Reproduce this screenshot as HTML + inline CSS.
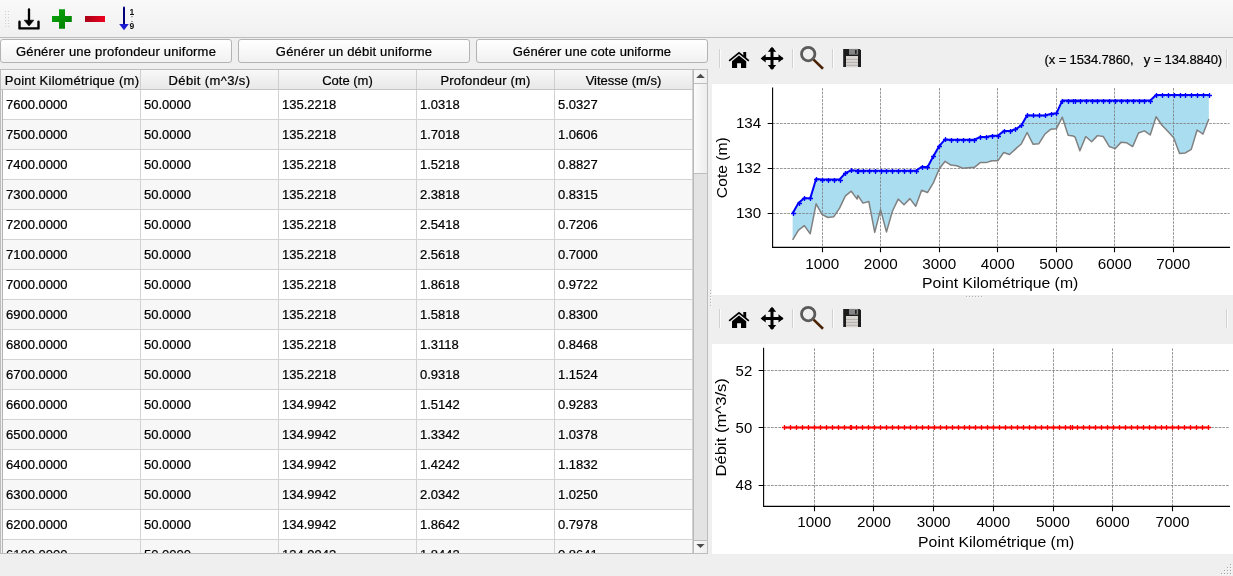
<!DOCTYPE html>
<html lang="fr">
<head>
<meta charset="utf-8">
<title>Conditions initiales</title>
<style>
html,body{margin:0;padding:0}
body{width:1233px;height:576px;overflow:hidden;background:#efefef;position:relative;
 font-family:"Liberation Sans",sans-serif;font-size:13px;color:#000;-webkit-text-stroke:0.22px #000}
div,span,svg{position:absolute;box-sizing:border-box}
#root{left:0;top:0;width:1233px;height:576px;will-change:transform}
.tb{left:0;top:0;width:1233px;height:38px;background:linear-gradient(#f9f9f9,#f0f0f0);border-bottom:1px solid #bcbcbc}
.btn{top:39px;height:24px;width:232px;border:1px solid #b3b3b3;border-radius:3px;
 background:linear-gradient(#ffffff,#f1f1f1);text-align:center;line-height:23px;white-space:nowrap}
.tbl{left:0;top:69px;width:708px;height:485px;border:1px solid #bcbcbc;background:#fff;overflow:hidden}
.hd{left:0;top:0;width:692px;height:20px;background:linear-gradient(#f8f8f8,#e8e8e8);border-bottom:1px solid #c6c6c6}
.hd span{top:0;height:19px;line-height:21px;text-align:center;border-right:1px solid #cfcfcf;white-space:nowrap}
.body{left:0;top:20px;width:692px;height:464px;overflow:hidden}
.r{left:0;width:692px;height:30px;top:0;border-bottom:1px solid #d3d3d3;background:#fff}
.r.a{background:#f7f7f7}
.r span{top:0;height:29px;width:138px;line-height:29px;padding-left:3px;border-right:1px solid #d3d3d3;white-space:nowrap}
.r span:first-child{left:0;width:140px;padding-left:5px}
.vl{left:0;top:20px;width:2px;height:464px;background:#f0f0f0;border-right:1px solid #b4b4b4}
.sb{left:692px;top:0;width:14px;height:483px;background:#e3e3e3;border-left:1px solid #b8b8b8}
.sb div{left:0;width:13px}
.sb .up{top:0;height:14px;background:linear-gradient(90deg,#f8f8f8,#efefef);border-bottom:1px solid #bdbdbd}
.sb .hn{top:14px;height:90px;background:linear-gradient(90deg,#fbfbfb,#ededed);border-bottom:1px solid #bdbdbd}
.sb .dn{top:470px;height:13px;background:linear-gradient(90deg,#f8f8f8,#efefef);border-top:1px solid #bdbdbd}
.cv{display:block}
.tk{font-family:"Liberation Sans",sans-serif;font-size:14.1px;fill:#000}
.mtb{left:712px;width:521px;height:46px}
.sep{width:2px;height:20px;border-left:1px solid #d0d0d0;background:#fafafa}
.coord{right:11px;top:0;height:46px;line-height:43px;white-space:pre;font-size:13px;letter-spacing:-0.13px}
</style>
</head>
<body>
<div id="root">
<!-- main toolbar -->
<div class="tb">
 <svg style="left:0;top:0" width="150" height="38" viewBox="0 0 150 38">
  <g fill="#cfcfcf"><rect x="5" y="11" width="1" height="1"/><rect x="8" y="11" width="1" height="1"/><rect x="5" y="14" width="1" height="1"/><rect x="8" y="14" width="1" height="1"/><rect x="5" y="17" width="1" height="1"/><rect x="8" y="17" width="1" height="1"/><rect x="5" y="20" width="1" height="1"/><rect x="8" y="20" width="1" height="1"/><rect x="5" y="23" width="1" height="1"/><rect x="8" y="23" width="1" height="1"/><rect x="5" y="26" width="1" height="1"/><rect x="8" y="26" width="1" height="1"/></g>
  <!-- import -->
  <path d="M29,9.4V22" stroke="#000" stroke-width="2.3" stroke-linecap="round" fill="none"/>
  <path d="M24.2,20.2H33.8L29,26Z" fill="#000" stroke="#000" stroke-width="0.6" stroke-linejoin="round"/>
  <path d="M19.5,21.8V28.4H38.5V21.8" stroke="#000" stroke-width="2.4" stroke-linecap="round" stroke-linejoin="round" fill="none"/>
  <!-- plus -->
  <defs>
   <linearGradient id="gg" x1="0" y1="0" x2="1" y2="1"><stop offset="0" stop-color="#0aa80a"/><stop offset="1" stop-color="#007a00"/></linearGradient>
   <linearGradient id="rg" x1="0" y1="0" x2="1" y2="0"><stop offset="0" stop-color="#a80016"/><stop offset="1" stop-color="#ee0020"/></linearGradient>
  </defs>
  <path d="M59,9.2h6v6.8h6.8v6h-6.8v6.8h-6v-6.8h-7v-6h7z" fill="url(#gg)"/>
  <!-- minus -->
  <rect x="85" y="16" width="20" height="6" fill="url(#rg)"/>
  <!-- sort -->
  <path d="M124,7.4V25" stroke="#00007a" stroke-width="2" stroke-linecap="round" fill="none"/>
  <path d="M119.2,23.9H128.8L124,30.2Z" fill="#1c1cd2"/>
  <text x="129.6" y="14.6" font-family="Liberation Sans, sans-serif" font-size="8.5" font-weight="bold" fill="#111">1</text>
  <rect x="131.5" y="16.2" width="1" height="1" fill="#333"/><rect x="131.5" y="21" width="1" height="1" fill="#333"/>
  <text x="129.6" y="29.4" font-family="Liberation Sans, sans-serif" font-size="8.5" font-weight="bold" fill="#111">9</text>
 </svg>
</div>
<!-- buttons -->
<div class="btn" style="left:0;letter-spacing:0.21px">Générer une profondeur uniforme</div>
<div class="btn" style="left:238px;letter-spacing:0.18px">Générer un débit uniforme</div>
<div class="btn" style="left:476px;letter-spacing:0.12px">Générer une cote uniforme</div>
<!-- table -->
<div class="tbl">
 <div class="hd">
  <span style="left:0;width:140px;letter-spacing:0.27px;padding-left:3px">Point Kilométrique (m)</span>
  <span style="left:140px;width:138px;letter-spacing:0.39px">Débit (m^3/s)</span>
  <span style="left:278px;width:138px">Cote (m)</span>
  <span style="left:416px;width:138px;letter-spacing:0.2px">Profondeur (m)</span>
  <span style="left:554px;width:138px">Vitesse (m/s)</span>
 </div>
 <div class="body"><div class="r" style="top:0px"><span style="left:0px">7600.0000</span><span style="left:140px">50.0000</span><span style="left:278px">135.2218</span><span style="left:416px">1.0318</span><span style="left:554px">5.0327</span></div><div class="r a" style="top:30px"><span style="left:0px">7500.0000</span><span style="left:140px">50.0000</span><span style="left:278px">135.2218</span><span style="left:416px">1.7018</span><span style="left:554px">1.0606</span></div><div class="r" style="top:60px"><span style="left:0px">7400.0000</span><span style="left:140px">50.0000</span><span style="left:278px">135.2218</span><span style="left:416px">1.5218</span><span style="left:554px">0.8827</span></div><div class="r a" style="top:90px"><span style="left:0px">7300.0000</span><span style="left:140px">50.0000</span><span style="left:278px">135.2218</span><span style="left:416px">2.3818</span><span style="left:554px">0.8315</span></div><div class="r" style="top:120px"><span style="left:0px">7200.0000</span><span style="left:140px">50.0000</span><span style="left:278px">135.2218</span><span style="left:416px">2.5418</span><span style="left:554px">0.7206</span></div><div class="r a" style="top:150px"><span style="left:0px">7100.0000</span><span style="left:140px">50.0000</span><span style="left:278px">135.2218</span><span style="left:416px">2.5618</span><span style="left:554px">0.7000</span></div><div class="r" style="top:180px"><span style="left:0px">7000.0000</span><span style="left:140px">50.0000</span><span style="left:278px">135.2218</span><span style="left:416px">1.8618</span><span style="left:554px">0.9722</span></div><div class="r a" style="top:210px"><span style="left:0px">6900.0000</span><span style="left:140px">50.0000</span><span style="left:278px">135.2218</span><span style="left:416px">1.5818</span><span style="left:554px">0.8300</span></div><div class="r" style="top:240px"><span style="left:0px">6800.0000</span><span style="left:140px">50.0000</span><span style="left:278px">135.2218</span><span style="left:416px">1.3118</span><span style="left:554px">0.8468</span></div><div class="r a" style="top:270px"><span style="left:0px">6700.0000</span><span style="left:140px">50.0000</span><span style="left:278px">135.2218</span><span style="left:416px">0.9318</span><span style="left:554px">1.1524</span></div><div class="r" style="top:300px"><span style="left:0px">6600.0000</span><span style="left:140px">50.0000</span><span style="left:278px">134.9942</span><span style="left:416px">1.5142</span><span style="left:554px">0.9283</span></div><div class="r a" style="top:330px"><span style="left:0px">6500.0000</span><span style="left:140px">50.0000</span><span style="left:278px">134.9942</span><span style="left:416px">1.3342</span><span style="left:554px">1.0378</span></div><div class="r" style="top:360px"><span style="left:0px">6400.0000</span><span style="left:140px">50.0000</span><span style="left:278px">134.9942</span><span style="left:416px">1.4242</span><span style="left:554px">1.1832</span></div><div class="r a" style="top:390px"><span style="left:0px">6300.0000</span><span style="left:140px">50.0000</span><span style="left:278px">134.9942</span><span style="left:416px">2.0342</span><span style="left:554px">1.0250</span></div><div class="r" style="top:420px"><span style="left:0px">6200.0000</span><span style="left:140px">50.0000</span><span style="left:278px">134.9942</span><span style="left:416px">1.8642</span><span style="left:554px">0.7978</span></div><div class="r a" style="top:450px"><span style="left:0px">6100.0000</span><span style="left:140px">50.0000</span><span style="left:278px">134.9942</span><span style="left:416px">1.8442</span><span style="left:554px">0.8641</span></div></div>
 <div class="vl"></div>
 <div class="sb"><div class="up"><svg width="13" height="14" style="left:0;top:0"><path d="M2.2,8L6.5,3.8L10.8,8Z" fill="#4c4c4c"/></svg></div><div class="hn"></div><div class="dn"><svg width="13" height="13" style="left:0;top:0"><path d="M2.4,3L6.5,7L10.6,3Z" fill="#4c4c4c"/></svg></div></div>
</div>
<!-- matplotlib toolbar 1 -->
<div class="mtb" style="top:38px">
 <svg style="left:0;top:0" width="160" height="46" viewBox="712 38 160 46">
  <path d="M719.5,49V68M792.5,49V68M832.5,49V68" stroke="#d2d2d2" stroke-width="1"/>
  <path d="M720.5,49V68M793.5,49V68M833.5,49V68" stroke="#fbfbfb" stroke-width="1"/>
  <!-- home -->
  <path d="M729.7,60.4L739,52.8L748.3,60.4" stroke="#000" stroke-width="1.8" fill="none" stroke-linecap="round" stroke-linejoin="miter"/>
  <path d="M743.3,52h2.9v6.2l-2.9,-2.4z" fill="#000"/>
  <path d="M732,61.2L739,55.5L746.2,61.2V68H741V63.2H737.1V68H732Z" fill="#000"/>
  <!-- move -->
  <path d="M772,48V69M762,58.4H782.4" stroke="#000" stroke-width="3" fill="none"/>
  <path d="M772,46.8L776.2,51.8H767.8ZM772,70L776.2,65H767.8ZM760.6,58.4L765.7,54.2V62.6ZM783.6,58.4L778.5,54.2V62.6Z" fill="#000"/>
  <!-- zoom -->
  <circle cx="808.2" cy="54.1" r="6.7" fill="none" stroke="#5a5a5a" stroke-width="2.8"/>
  <path d="M813.6,59.6L823,68.8" stroke="#4a2206" stroke-width="2.6" fill="none"/>
  <!-- save -->
  <path d="M843.2,48.9H859.6L861,50.3V67H843.2Z" fill="#1c1c1c"/>
  <rect x="849" y="48.9" width="9.1" height="5.8" fill="#858585"/>
  <rect x="855" y="50" width="1.6" height="3.8" fill="#222"/>
  <rect x="846" y="56" width="12" height="11.3" fill="#d9d5d2"/>
  <path d="M846,59.4H858M846,62.4H858M846,65.3H858" stroke="#a8a4a0" stroke-width="0.8"/>
 </svg>
 <div class="coord">(x = 1534.7860,   y = 134.8840)</div>
</div>
<svg class="cv" style="left:712px;top:84px" width="521" height="211" viewBox="0 0 521 211"><rect width="521" height="211" fill="#fff"/><polygon points="80.65,129.25 86.51,118.9 92.37,113.95 98.24,114.4 104.1,95.05 109.96,95.5 115.82,95.5 121.68,95.5 127.55,95.5 133.41,88.98 139.27,86.28 145.13,86.73 145.84,86.73 150.99,86.73 156.86,86.73 162.72,86.73 168.58,86.73 174.44,86.73 180.3,86.73 186.17,86.73 192.03,86.73 197.89,86.73 203.75,86.73 209.61,82.9 215.48,83.12 221.34,72.32 227.2,62.2 233.06,55.45 238.92,55.67 244.79,55.67 250.65,55.67 256.51,55.67 262.37,55.67 268.23,52.98 274.1,52.98 279.96,51.85 285.82,51.85 291.68,47.12 297.54,47.12 303.41,45.33 309.27,41.5 315.13,31.15 320.99,31.38 326.85,31.38 332.72,31.38 338.58,30.03 344.44,29.35 350.3,16.5 356.16,16.5 361.38,16.5 363.14,16.5 367.89,16.5 373.75,16.5 379.61,16.5 385.47,16.5 391.34,16.5 397.2,16.5 403.06,16.5 408.92,16.5 414.78,16.5 420.65,16.5 426.51,16.5 432.37,16.5 438.23,16.5 444.09,11.07 449.96,11.07 455.82,11.07 461.68,11.07 467.54,11.07 473.4,11.07 479.27,11.07 485.13,11.07 490.99,11.07 496.85,11.07 496.85,34.98 490.99,50.05 485.13,46 479.27,65.35 473.4,68.95 467.54,69.4 461.68,53.65 455.82,47.35 449.96,41.28 444.09,32.73 438.23,50.95 432.37,46.9 426.51,48.93 420.65,62.65 414.78,58.83 408.92,58.37 403.06,64.67 397.2,62.43 391.34,52.53 385.47,51.63 379.61,57.7 373.75,52.53 367.89,66.7 363.14,53.2 361.38,52.07 356.16,51.18 350.3,33.17 344.44,44.65 338.58,45.33 332.72,50.28 326.85,59.72 320.99,60.18 315.13,48.47 309.27,59.95 303.41,65.13 297.54,70.52 291.68,68.5 285.82,76.82 279.96,76.82 274.1,78.62 268.23,78.62 262.37,83.35 256.51,83.8 250.65,84.25 244.79,81.77 238.92,81.1 233.06,77.27 227.2,84.93 221.34,98.88 215.48,108.55 209.61,106.3 203.75,122.27 197.89,114.62 192.03,120.7 186.17,115.08 180.3,127.45 174.44,147.93 168.58,125.65 162.72,148.37 156.86,117.55 150.99,119.13 145.84,111.48 145.13,115.08 139.27,107.2 133.41,111.92 127.55,124.08 121.68,132.85 115.82,133.52 109.96,130.38 104.1,119.8 98.24,149.72 92.37,141.63 86.51,146.12 80.65,155.8" fill="#87ceeb" fill-opacity="0.7"/><path d="M110.5,4V163.4M168.5,4V163.4M227.5,4V163.4M285.5,4V163.4M344.5,4V163.4M402.5,4V163.4M461.5,4V163.4M60.6,129.5H517.5M60.6,84.5H517.5M60.6,39.5H517.5" stroke="#7c7c7c" stroke-width="0.8" stroke-dasharray="2.6,1.1" fill="none"/><polyline points="80.65,155.8 86.51,146.12 92.37,141.63 98.24,149.72 104.1,119.8 109.96,130.38 115.82,133.52 121.68,132.85 127.55,124.08 133.41,111.92 139.27,107.2 145.13,115.08 145.84,111.48 150.99,119.13 156.86,117.55 162.72,148.37 168.58,125.65 174.44,147.93 180.3,127.45 186.17,115.08 192.03,120.7 197.89,114.62 203.75,122.27 209.61,106.3 215.48,108.55 221.34,98.88 227.2,84.93 233.06,77.27 238.92,81.1 244.79,81.77 250.65,84.25 256.51,83.8 262.37,83.35 268.23,78.62 274.1,78.62 279.96,76.82 285.82,76.82 291.68,68.5 297.54,70.52 303.41,65.13 309.27,59.95 315.13,48.47 320.99,60.18 326.85,59.72 332.72,50.28 338.58,45.33 344.44,44.65 350.3,33.17 356.16,51.18 361.38,52.07 363.14,53.2 367.89,66.7 373.75,52.53 379.61,57.7 385.47,51.63 391.34,52.53 397.2,62.43 403.06,64.67 408.92,58.37 414.78,58.83 420.65,62.65 426.51,48.93 432.37,46.9 438.23,50.95 444.09,32.73 449.96,41.28 455.82,47.35 461.68,53.65 467.54,69.4 473.4,68.95 479.27,65.35 485.13,46 490.99,50.05 496.85,34.98" fill="none" stroke="#808080" stroke-width="1.5" stroke-linejoin="round"/><polyline points="80.65,129.25 86.51,118.9 92.37,113.95 98.24,114.4 104.1,95.05 109.96,95.5 115.82,95.5 121.68,95.5 127.55,95.5 133.41,88.98 139.27,86.28 145.13,86.73 145.84,86.73 150.99,86.73 156.86,86.73 162.72,86.73 168.58,86.73 174.44,86.73 180.3,86.73 186.17,86.73 192.03,86.73 197.89,86.73 203.75,86.73 209.61,82.9 215.48,83.12 221.34,72.32 227.2,62.2 233.06,55.45 238.92,55.67 244.79,55.67 250.65,55.67 256.51,55.67 262.37,55.67 268.23,52.98 274.1,52.98 279.96,51.85 285.82,51.85 291.68,47.12 297.54,47.12 303.41,45.33 309.27,41.5 315.13,31.15 320.99,31.38 326.85,31.38 332.72,31.38 338.58,30.03 344.44,29.35 350.3,16.5 356.16,16.5 361.38,16.5 363.14,16.5 367.89,16.5 373.75,16.5 379.61,16.5 385.47,16.5 391.34,16.5 397.2,16.5 403.06,16.5 408.92,16.5 414.78,16.5 420.65,16.5 426.51,16.5 432.37,16.5 438.23,16.5 444.09,11.07 449.96,11.07 455.82,11.07 461.68,11.07 467.54,11.07 473.4,11.07 479.27,11.07 485.13,11.07 490.99,11.07 496.85,11.07" fill="none" stroke="#0000ff" stroke-width="2" stroke-linejoin="miter"/><path d="M79,129.5h5M81.5,127v5M85,119.5h5M87.5,117v5M90,114.5h5M92.5,112v5M96,114.5h5M98.5,112v5M102,95.5h5M104.5,93v5M108,96.5h5M110.5,94v5M114,96.5h5M116.5,94v5M120,96.5h5M122.5,94v5M126,96.5h5M128.5,94v5M131,89.5h5M133.5,87v5M137,86.5h5M139.5,84v5M143,87.5h5M145.5,85v5M144,87.5h5M146.5,85v5M149,87.5h5M151.5,85v5M155,87.5h5M157.5,85v5M161,87.5h5M163.5,85v5M167,87.5h5M169.5,85v5M172,87.5h5M174.5,85v5M178,87.5h5M180.5,85v5M184,87.5h5M186.5,85v5M190,87.5h5M192.5,85v5M196,87.5h5M198.5,85v5M202,87.5h5M204.5,85v5M208,83.5h5M210.5,81v5M213,83.5h5M215.5,81v5M219,72.5h5M221.5,70v5M225,62.5h5M227.5,60v5M231,55.5h5M233.5,53v5M237,56.5h5M239.5,54v5M243,56.5h5M245.5,54v5M249,56.5h5M251.5,54v5M255,56.5h5M257.5,54v5M260,56.5h5M262.5,54v5M266,53.5h5M268.5,51v5M272,53.5h5M274.5,51v5M278,52.5h5M280.5,50v5M284,52.5h5M286.5,50v5M290,47.5h5M292.5,45v5M296,47.5h5M298.5,45v5M301,45.5h5M303.5,43v5M307,41.5h5M309.5,39v5M313,31.5h5M315.5,29v5M319,31.5h5M321.5,29v5M325,31.5h5M327.5,29v5M331,31.5h5M333.5,29v5M337,30.5h5M339.5,28v5M342,29.5h5M344.5,27v5M348,17.5h5M350.5,15v5M354,17.5h5M356.5,15v5M359,17.5h5M361.5,15v5M361,17.5h5M363.5,15v5M366,17.5h5M368.5,15v5M372,17.5h5M374.5,15v5M378,17.5h5M380.5,15v5M383,17.5h5M385.5,15v5M389,17.5h5M391.5,15v5M395,17.5h5M397.5,15v5M401,17.5h5M403.5,15v5M407,17.5h5M409.5,15v5M413,17.5h5M415.5,15v5M419,17.5h5M421.5,15v5M425,17.5h5M427.5,15v5M430,17.5h5M432.5,15v5M436,17.5h5M438.5,15v5M442,11.5h5M444.5,9v5M448,11.5h5M450.5,9v5M454,11.5h5M456.5,9v5M460,11.5h5M462.5,9v5M466,11.5h5M468.5,9v5M471,11.5h5M473.5,9v5M477,11.5h5M479.5,9v5M483,11.5h5M485.5,9v5M489,11.5h5M491.5,9v5M495,11.5h5M497.5,9v5" stroke="#0000ff" stroke-width="1.3" fill="none"/><path d="M60.6,4V163.4H517.5M110.5,163.4v4.4M168.5,163.4v4.4M227.5,163.4v4.4M285.5,163.4v4.4M344.5,163.4v4.4M402.5,163.4v4.4M461.5,163.4v4.4M60.6,129.5h-4.4M60.6,84.5h-4.4M60.6,39.5h-4.4" stroke="#000" stroke-width="1.1" fill="none" stroke-linecap="square"/><text x="110.25" y="184.8" text-anchor="middle" class="tk" textLength="33.9" lengthAdjust="spacingAndGlyphs">1000</text><text x="168.75" y="184.8" text-anchor="middle" class="tk" textLength="33.9" lengthAdjust="spacingAndGlyphs">2000</text><text x="227.25" y="184.8" text-anchor="middle" class="tk" textLength="33.9" lengthAdjust="spacingAndGlyphs">3000</text><text x="285.75" y="184.8" text-anchor="middle" class="tk" textLength="33.9" lengthAdjust="spacingAndGlyphs">4000</text><text x="344.25" y="184.8" text-anchor="middle" class="tk" textLength="33.9" lengthAdjust="spacingAndGlyphs">5000</text><text x="402.75" y="184.8" text-anchor="middle" class="tk" textLength="33.9" lengthAdjust="spacingAndGlyphs">6000</text><text x="461.25" y="184.8" text-anchor="middle" class="tk" textLength="33.9" lengthAdjust="spacingAndGlyphs">7000</text><text x="49.2" y="134.25" text-anchor="end" class="tk" textLength="25.3" lengthAdjust="spacingAndGlyphs">130</text><text x="49.2" y="89.25" text-anchor="end" class="tk" textLength="25.3" lengthAdjust="spacingAndGlyphs">132</text><text x="49.2" y="44.25" text-anchor="end" class="tk" textLength="25.3" lengthAdjust="spacingAndGlyphs">134</text><text x="288.2" y="203.7" text-anchor="middle" class="tk" textLength="156.2" lengthAdjust="spacingAndGlyphs">Point Kilométrique (m)</text><text transform="translate(14.9,83.7) rotate(-90)" text-anchor="middle" class="tk" textLength="60.9" lengthAdjust="spacingAndGlyphs">Cote (m)</text></svg>
<div class="mtb" style="top:297px">
 <svg style="left:0;top:0" width="160" height="46" viewBox="712 37 160 46">
  <path d="M719.5,49V68M792.5,49V68M832.5,49V68" stroke="#d2d2d2" stroke-width="1"/>
  <path d="M720.5,49V68M793.5,49V68M833.5,49V68" stroke="#fbfbfb" stroke-width="1"/>
  <!-- home -->
  <path d="M729.7,60.4L739,52.8L748.3,60.4" stroke="#000" stroke-width="1.8" fill="none" stroke-linecap="round" stroke-linejoin="miter"/>
  <path d="M743.3,52h2.9v6.2l-2.9,-2.4z" fill="#000"/>
  <path d="M732,61.2L739,55.5L746.2,61.2V68H741V63.2H737.1V68H732Z" fill="#000"/>
  <!-- move -->
  <path d="M772,48V69M762,58.4H782.4" stroke="#000" stroke-width="3" fill="none"/>
  <path d="M772,46.8L776.2,51.8H767.8ZM772,70L776.2,65H767.8ZM760.6,58.4L765.7,54.2V62.6ZM783.6,58.4L778.5,54.2V62.6Z" fill="#000"/>
  <!-- zoom -->
  <circle cx="808.2" cy="54.1" r="6.7" fill="none" stroke="#5a5a5a" stroke-width="2.8"/>
  <path d="M813.6,59.6L823,68.8" stroke="#4a2206" stroke-width="2.6" fill="none"/>
  <!-- save -->
  <path d="M843.2,48.9H859.6L861,50.3V67H843.2Z" fill="#1c1c1c"/>
  <rect x="849" y="48.9" width="9.1" height="5.8" fill="#858585"/>
  <rect x="855" y="50" width="1.6" height="3.8" fill="#222"/>
  <rect x="846" y="56" width="12" height="11.3" fill="#d9d5d2"/>
  <path d="M846,59.4H858M846,62.4H858M846,65.3H858" stroke="#a8a4a0" stroke-width="0.8"/>
 </svg>
</div>
<svg class="cv" style="left:712px;top:344px" width="521" height="210" viewBox="0 0 521 210"><rect width="521" height="210" fill="#fff"/><path d="M102.5,4.3V162.4M161.5,4.3V162.4M221.5,4.3V162.4M281.5,4.3V162.4M341.5,4.3V162.4M400.5,4.3V162.4M460.5,4.3V162.4M51.6,141.5H517.5M51.6,83.5H517.5M51.6,26.5H517.5" stroke="#7c7c7c" stroke-width="0.8" stroke-dasharray="2.6,1.1" fill="none"/><path d="M72.4,83.5H496.27" stroke="#ff0000" stroke-width="1.85" fill="none"/><path d="M69.9,83.5h5.2M72.5,80.9v5.2M75.9,83.5h5.2M78.5,80.9v5.2M81.9,83.5h5.2M84.5,80.9v5.2M87.9,83.5h5.2M90.5,80.9v5.2M93.9,83.5h5.2M96.5,80.9v5.2M99.9,83.5h5.2M102.5,80.9v5.2M105.9,83.5h5.2M108.5,80.9v5.2M111.9,83.5h5.2M114.5,80.9v5.2M117.9,83.5h5.2M120.5,80.9v5.2M123.9,83.5h5.2M126.5,80.9v5.2M129.9,83.5h5.2M132.5,80.9v5.2M135.9,83.5h5.2M138.5,80.9v5.2M136.9,83.5h5.2M139.5,80.9v5.2M141.9,83.5h5.2M144.5,80.9v5.2M147.9,83.5h5.2M150.5,80.9v5.2M153.9,83.5h5.2M156.5,80.9v5.2M159.9,83.5h5.2M162.5,80.9v5.2M165.9,83.5h5.2M168.5,80.9v5.2M171.9,83.5h5.2M174.5,80.9v5.2M177.9,83.5h5.2M180.5,80.9v5.2M183.9,83.5h5.2M186.5,80.9v5.2M189.9,83.5h5.2M192.5,80.9v5.2M195.9,83.5h5.2M198.5,80.9v5.2M201.9,83.5h5.2M204.5,80.9v5.2M207.9,83.5h5.2M210.5,80.9v5.2M213.9,83.5h5.2M216.5,80.9v5.2M219.9,83.5h5.2M222.5,80.9v5.2M225.9,83.5h5.2M228.5,80.9v5.2M231.9,83.5h5.2M234.5,80.9v5.2M237.9,83.5h5.2M240.5,80.9v5.2M243.9,83.5h5.2M246.5,80.9v5.2M249.9,83.5h5.2M252.5,80.9v5.2M254.9,83.5h5.2M257.5,80.9v5.2M260.9,83.5h5.2M263.5,80.9v5.2M266.9,83.5h5.2M269.5,80.9v5.2M272.9,83.5h5.2M275.5,80.9v5.2M278.9,83.5h5.2M281.5,80.9v5.2M284.9,83.5h5.2M287.5,80.9v5.2M290.9,83.5h5.2M293.5,80.9v5.2M296.9,83.5h5.2M299.5,80.9v5.2M302.9,83.5h5.2M305.5,80.9v5.2M308.9,83.5h5.2M311.5,80.9v5.2M314.9,83.5h5.2M317.5,80.9v5.2M320.9,83.5h5.2M323.5,80.9v5.2M326.9,83.5h5.2M329.5,80.9v5.2M332.9,83.5h5.2M335.5,80.9v5.2M338.9,83.5h5.2M341.5,80.9v5.2M344.9,83.5h5.2M347.5,80.9v5.2M350.9,83.5h5.2M353.5,80.9v5.2M355.9,83.5h5.2M358.5,80.9v5.2M357.9,83.5h5.2M360.5,80.9v5.2M362.9,83.5h5.2M365.5,80.9v5.2M368.9,83.5h5.2M371.5,80.9v5.2M374.9,83.5h5.2M377.5,80.9v5.2M380.9,83.5h5.2M383.5,80.9v5.2M386.9,83.5h5.2M389.5,80.9v5.2M392.9,83.5h5.2M395.5,80.9v5.2M398.9,83.5h5.2M401.5,80.9v5.2M404.9,83.5h5.2M407.5,80.9v5.2M410.9,83.5h5.2M413.5,80.9v5.2M416.9,83.5h5.2M419.5,80.9v5.2M422.9,83.5h5.2M425.5,80.9v5.2M428.9,83.5h5.2M431.5,80.9v5.2M434.9,83.5h5.2M437.5,80.9v5.2M440.9,83.5h5.2M443.5,80.9v5.2M446.9,83.5h5.2M449.5,80.9v5.2M451.9,83.5h5.2M454.5,80.9v5.2M457.9,83.5h5.2M460.5,80.9v5.2M463.9,83.5h5.2M466.5,80.9v5.2M469.9,83.5h5.2M472.5,80.9v5.2M475.9,83.5h5.2M478.5,80.9v5.2M481.9,83.5h5.2M484.5,80.9v5.2M487.9,83.5h5.2M490.5,80.9v5.2M493.9,83.5h5.2M496.5,80.9v5.2" stroke="#ff0000" stroke-width="1.3" fill="none"/><path d="M51.6,4.3V162.4H517.5M102.5,162.4v4.4M161.5,162.4v4.4M221.5,162.4v4.4M281.5,162.4v4.4M341.5,162.4v4.4M400.5,162.4v4.4M460.5,162.4v4.4M51.6,141.5h-4.4M51.6,83.5h-4.4M51.6,26.5h-4.4" stroke="#000" stroke-width="1.1" fill="none" stroke-linecap="square"/><text x="102.25" y="183.4" text-anchor="middle" class="tk" textLength="33.9" lengthAdjust="spacingAndGlyphs">1000</text><text x="161.95" y="183.4" text-anchor="middle" class="tk" textLength="33.9" lengthAdjust="spacingAndGlyphs">2000</text><text x="221.65" y="183.4" text-anchor="middle" class="tk" textLength="33.9" lengthAdjust="spacingAndGlyphs">3000</text><text x="281.35" y="183.4" text-anchor="middle" class="tk" textLength="33.9" lengthAdjust="spacingAndGlyphs">4000</text><text x="341.05" y="183.4" text-anchor="middle" class="tk" textLength="33.9" lengthAdjust="spacingAndGlyphs">5000</text><text x="400.75" y="183.4" text-anchor="middle" class="tk" textLength="33.9" lengthAdjust="spacingAndGlyphs">6000</text><text x="460.45" y="183.4" text-anchor="middle" class="tk" textLength="33.9" lengthAdjust="spacingAndGlyphs">7000</text><text x="40.2" y="146" text-anchor="end" class="tk" textLength="16.6" lengthAdjust="spacingAndGlyphs">48</text><text x="40.2" y="88.75" text-anchor="end" class="tk" textLength="16.6" lengthAdjust="spacingAndGlyphs">50</text><text x="40.2" y="31.5" text-anchor="end" class="tk" textLength="16.6" lengthAdjust="spacingAndGlyphs">52</text><text x="284.2" y="202.5" text-anchor="middle" class="tk" textLength="156.2" lengthAdjust="spacingAndGlyphs">Point Kilométrique (m)</text><text transform="translate(14.4,83.35) rotate(-90)" text-anchor="middle" class="tk" textLength="98.4" lengthAdjust="spacingAndGlyphs">Débit (m^3/s)</text></svg>
<svg style="left:0;top:0;pointer-events:none" width="1233" height="576" viewBox="0 0 1233 576">
 <path d="M1226.5,49V68M1226.5,309V328" stroke="#d2d2d2"/><path d="M1227.5,49V68M1227.5,309V328" stroke="#fbfbfb"/>
 <g fill="#b4b4b4"><rect x="966" y="296" width="1" height="1"/><rect x="969" y="296" width="1" height="1"/><rect x="972" y="296" width="1" height="1"/><rect x="975" y="296" width="1" height="1"/><rect x="978" y="296" width="1" height="1"/><rect x="981" y="296" width="1" height="1"/><rect x="710" y="290" width="1" height="1"/><rect x="710" y="293" width="1" height="1"/><rect x="710" y="296" width="1" height="1"/><rect x="710" y="299" width="1" height="1"/><rect x="710" y="302" width="1" height="1"/><rect x="710" y="305" width="1" height="1"/><rect x="1230" y="564" width="1" height="1" fill="#a4a4a4"/><rect x="1227" y="567" width="1" height="1" fill="#a4a4a4"/><rect x="1230" y="567" width="1" height="1" fill="#a4a4a4"/><rect x="1224" y="570" width="1" height="1" fill="#a4a4a4"/><rect x="1227" y="570" width="1" height="1" fill="#a4a4a4"/><rect x="1230" y="570" width="1" height="1" fill="#a4a4a4"/><rect x="1221" y="573" width="1" height="1" fill="#a4a4a4"/><rect x="1224" y="573" width="1" height="1" fill="#a4a4a4"/><rect x="1227" y="573" width="1" height="1" fill="#a4a4a4"/><rect x="1230" y="573" width="1" height="1" fill="#a4a4a4"/></g><g fill="#fdfdfd"><rect x="967" y="297" width="1" height="1"/><rect x="970" y="297" width="1" height="1"/><rect x="973" y="297" width="1" height="1"/><rect x="976" y="297" width="1" height="1"/><rect x="979" y="297" width="1" height="1"/><rect x="982" y="297" width="1" height="1"/><rect x="711" y="291" width="1" height="1"/><rect x="711" y="294" width="1" height="1"/><rect x="711" y="297" width="1" height="1"/><rect x="711" y="300" width="1" height="1"/><rect x="711" y="303" width="1" height="1"/><rect x="711" y="306" width="1" height="1"/><rect x="1231" y="565" width="1" height="1"/><rect x="1228" y="568" width="1" height="1"/><rect x="1231" y="568" width="1" height="1"/><rect x="1225" y="571" width="1" height="1"/><rect x="1228" y="571" width="1" height="1"/><rect x="1231" y="571" width="1" height="1"/><rect x="1222" y="574" width="1" height="1"/><rect x="1225" y="574" width="1" height="1"/><rect x="1228" y="574" width="1" height="1"/><rect x="1231" y="574" width="1" height="1"/></g>
</svg>
</div>
</body>
</html>
